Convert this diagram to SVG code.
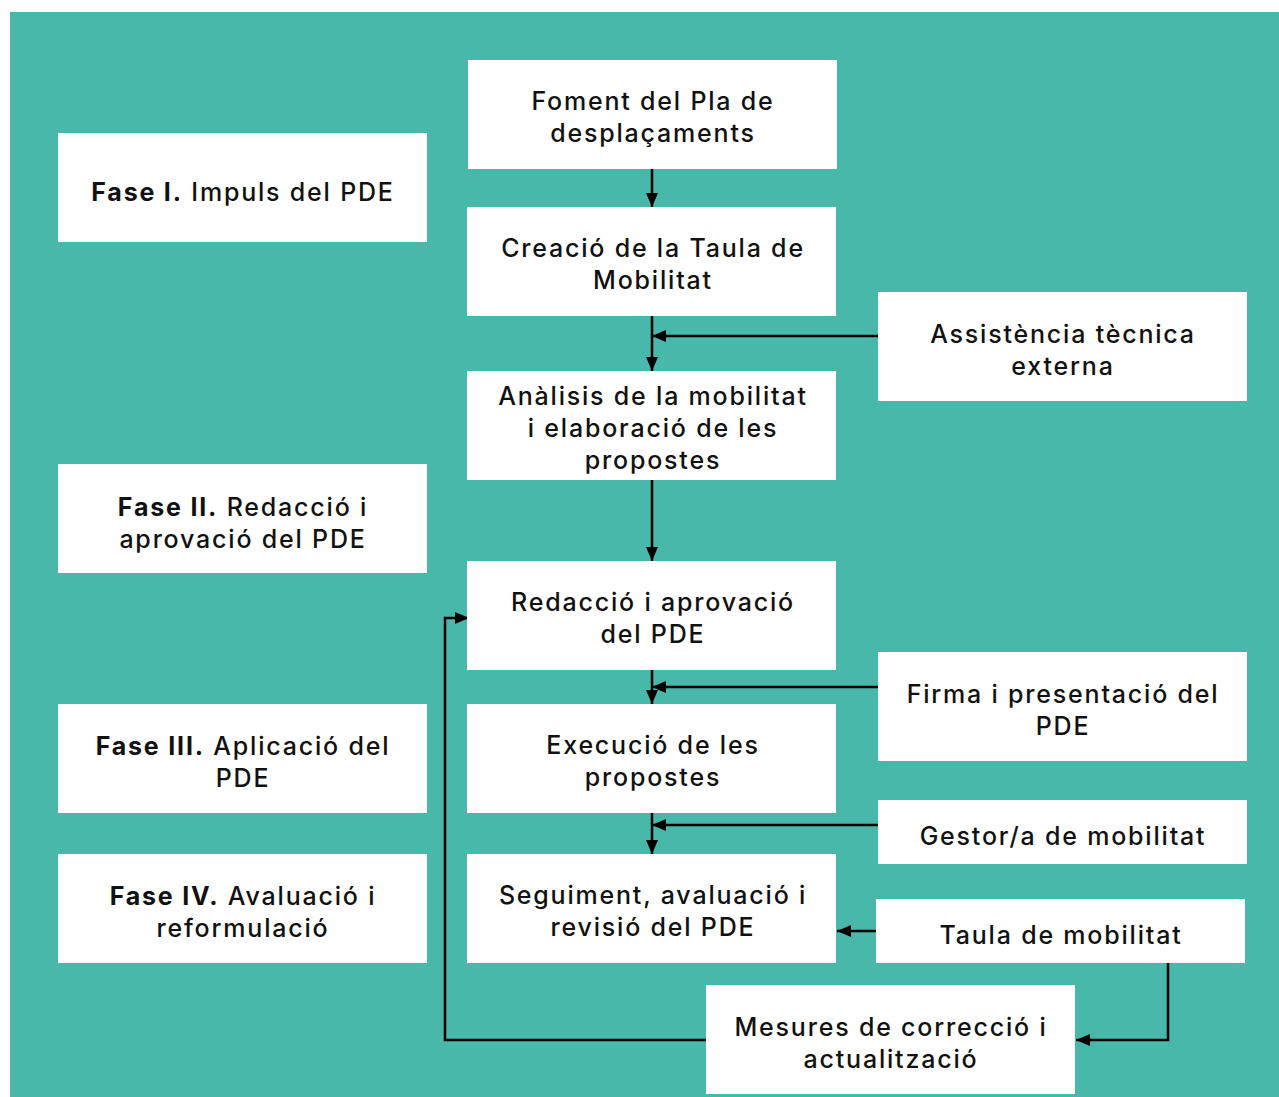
<svg xmlns="http://www.w3.org/2000/svg" width="1279" height="1097" viewBox="0 0 1279 1097">
<defs>
<style>
.box{fill:#ffffff}
.t{font-family:Inter,"Noto Sans","Liberation Sans",sans-serif;font-size:25px;font-weight:500;letter-spacing:1.8px;fill:#111111;text-anchor:middle}
.b{font-weight:bold}
.c{fill:none;stroke:#000;stroke-width:2.5}
</style>
<marker id="ah" viewBox="0 0 14 12" refX="14" refY="6" markerWidth="14" markerHeight="12" markerUnits="userSpaceOnUse" orient="auto">
<path d="M0,0 L14,6 L0,12 Z" fill="#000"/>
</marker>
</defs>
<rect x="0" y="0" width="1279" height="1097" fill="#ffffff"/>
<rect x="10" y="12" width="1269" height="1085" fill="#47b8a9"/>

<g id="connectors">
<line class="c" x1="652" y1="169" x2="652" y2="207" marker-end="url(#ah)"/>
<line class="c" x1="652" y1="316" x2="652" y2="371" marker-end="url(#ah)"/>
<line class="c" x1="878" y1="336" x2="652" y2="336" marker-end="url(#ah)"/>
<line class="c" x1="652" y1="480" x2="652" y2="561" marker-end="url(#ah)"/>
<line class="c" x1="652" y1="670" x2="652" y2="704" marker-end="url(#ah)"/>
<line class="c" x1="878" y1="687" x2="652" y2="687" marker-end="url(#ah)"/>
<line class="c" x1="652" y1="813" x2="652" y2="854" marker-end="url(#ah)"/>
<line class="c" x1="878" y1="825" x2="652" y2="825" marker-end="url(#ah)"/>
<line class="c" x1="876" y1="931" x2="837" y2="931" marker-end="url(#ah)"/>
<polyline class="c" points="1168,963 1168,1040 1076,1040" marker-end="url(#ah)"/>
<polyline class="c" points="706,1040 445,1040 445,618 469,618" marker-end="url(#ah)"/>
</g>

<g id="fase1"><rect class="box" x="58" y="133" width="369" height="109"/>
<text class="t" x="243" y="201"><tspan class="b">Fase I.</tspan> Impuls del PDE</text></g>
<g id="fase2"><rect class="box" x="58" y="464" width="369" height="109"/>
<text class="t" x="243" y="516"><tspan class="b">Fase II.</tspan> Redacció i</text>
<text class="t" x="243" y="548">aprovació del PDE</text></g>
<g id="fase3"><rect class="box" x="58" y="704" width="369" height="109"/>
<text class="t" x="243" y="755"><tspan class="b">Fase III.</tspan> Aplicació del</text>
<text class="t" x="243" y="787">PDE</text></g>
<g id="fase4"><rect class="box" x="58" y="854" width="369" height="109"/>
<text class="t" x="243" y="905"><tspan class="b">Fase IV.</tspan> Avaluació i</text>
<text class="t" x="243" y="937">reformulació</text></g>

<g id="foment"><rect class="box" x="468" y="60" width="369" height="109"/>
<text class="t" x="653" y="110">Foment del Pla de</text>
<text class="t" x="653" y="142">desplaçaments</text></g>
<g id="creacio"><rect class="box" x="467" y="207" width="369" height="109"/>
<text class="t" x="653" y="257">Creació de la Taula de</text>
<text class="t" x="653" y="289">Mobilitat</text></g>
<g id="assistencia"><rect class="box" x="878" y="292" width="369" height="109"/>
<text class="t" x="1063" y="343">Assistència tècnica</text>
<text class="t" x="1063" y="375">externa</text></g>
<g id="analisis"><rect class="box" x="467" y="371" width="369" height="109"/>
<text class="t" x="653" y="405">Anàlisis de la mobilitat</text>
<text class="t" x="653" y="437">i elaboració de les</text>
<text class="t" x="653" y="469">propostes</text></g>
<g id="redaccio"><rect class="box" x="467" y="561" width="369" height="109"/>
<text class="t" x="653" y="611">Redacció i aprovació</text>
<text class="t" x="653" y="643">del PDE</text></g>
<g id="firma"><rect class="box" x="878" y="652" width="369" height="109"/>
<text class="t" x="1063" y="703">Firma i presentació del</text>
<text class="t" x="1063" y="735">PDE</text></g>
<g id="execucio"><rect class="box" x="467" y="704" width="369" height="109"/>
<text class="t" x="653" y="754">Execució de les</text>
<text class="t" x="653" y="786">propostes</text></g>
<g id="gestor"><rect class="box" x="878" y="800" width="369" height="64"/>
<text class="t" x="1063" y="845">Gestor/a de mobilitat</text></g>
<g id="seguiment"><rect class="box" x="467" y="854" width="369" height="109"/>
<text class="t" x="653" y="904">Seguiment, avaluació i</text>
<text class="t" x="653" y="936">revisió del PDE</text></g>
<g id="taula"><rect class="box" x="876" y="899" width="369" height="64"/>
<text class="t" x="1061" y="944">Taula de mobilitat</text></g>
<g id="mesures"><rect class="box" x="706" y="985" width="369" height="109"/>
<text class="t" x="891" y="1036">Mesures de correcció i</text>
<text class="t" x="891" y="1068">actualització</text></g>
</svg>
